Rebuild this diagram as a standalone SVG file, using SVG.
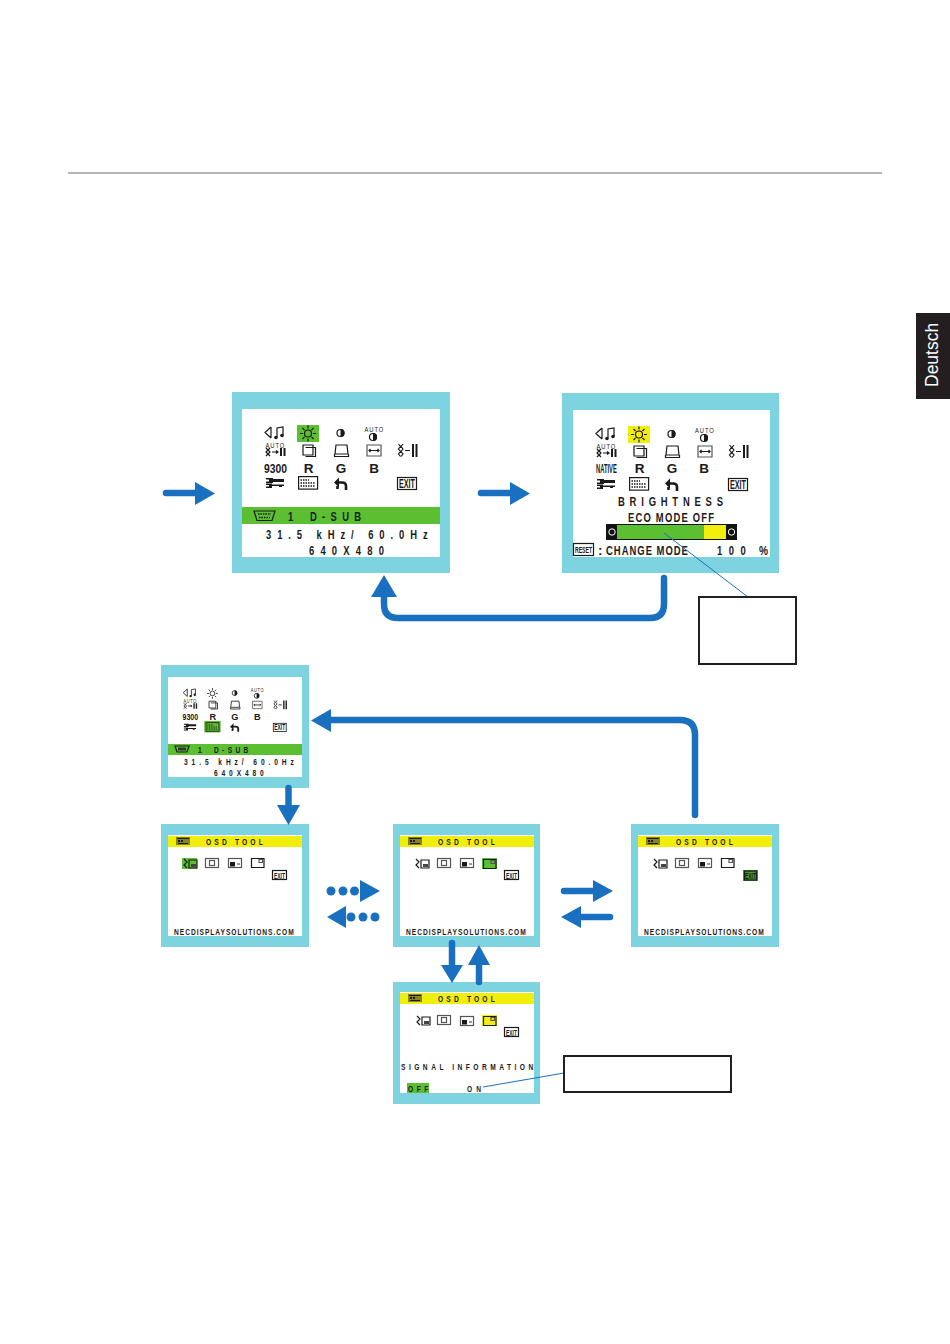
<svg xmlns="http://www.w3.org/2000/svg" width="950" height="1344" viewBox="0 0 950 1344">
<style>
.frame{fill:#7dd3e0}.inner{fill:#fff}.green{fill:#5cbf32}.yellow{fill:#f2ee0c}
.m{font-family:"Liberation Sans",Arial,sans-serif;font-weight:bold;fill:#1a1a1a;font-size:13.500px}
.s{font-size:8px;font-weight:normal}.i{font-size:12px}.t{font-size:9.500px}
.ln{fill:none;stroke:#1a1a1a;stroke-width:1.200}
.gr{fill:none;stroke:#555;stroke-width:1.200}
.fill{fill:#1a1a1a}
.conn{fill:none;stroke:#1a70c0;stroke-width:6.500;stroke-linecap:round}
.head{fill:#1a70c0}
.lead{fill:none;stroke:#1a70c0;stroke-width:1}
.box{fill:#fff;stroke:#231f20;stroke-width:2}
</style>
<defs>
<g id="speaker"><path class="ln" d="M8 1 2 6.500 8 12M8 1V12M14 11V2L20 1V9"/><circle class="fill" cx="13" cy="11.500" r="1.800"/><circle class="fill" cx="19" cy="9.500" r="1.800"/></g>
<g id="sun"><circle class="ln" cx="0" cy="0" r="3.500"/><path class="ln" stroke-width="1" d="M0-8V-5M0 8V5M-8 0H-5M8 0H5M-5.500-5.500-3.500-3.500M5.500 5.500 3.500 3.500M-5.500 5.500-3.500 3.500M5.500-5.500 3.500-3.500"/></g>
<g id="half"><circle class="ln" r="3.500"/><path class="fill" d="M0-4A4 4 0 0 1 0 4Z"/></g>
<g id="arrowbars"><path class="ln" d="M1 0 3 2 1 4 3 6 1 8M5 0 3 2 5 4 3 6 5 8M7 4H13M11 2.500 13 4 11 5.500"/><path class="fill" d="M15 0H17V8H15ZM18.500 0H20.500V8H18.500Z"/></g>
<g id="bars"><path class="ln" d="M1.500 0 3.500 2.500 1.500 5 3.500 7.500 1.500 10 3.500 12.500M6 0 4 2.500 6 5 4 7.500 6 10 4 12.500M8 6.500H13"/><path class="fill" d="M15 0H17V13H15ZM18.500 0H20.500V13H18.500Z"/></g>
<g id="squareH"><path class="ln" d="M1 1H11V11H1ZM3.500 3.500H13.500V12.500H3.500" stroke="#444"/></g>
<g id="squareV"><path class="ln" d="M2 1H13L14 10H1ZM0.500 10V12.500H14.500V10"/></g>
<g id="squareW"><path class="gr" d="M1 1H15V12H1Z"/><path class="ln" stroke-width=".8" d="M3 6.500H13M4.500 5 3 6.500 4.500 8M11.500 5 13 6.500 11.500 8"/></g>
<g id="wrench"><path class="fill" d="M0 0H7V1H18V4H7V5H0V3.500H3V1.500H0ZM0 5.500H6V6.500H18V8H16V9H13V8H6V10H0V8.500H3V7H0Z"/></g>
<g id="keyboard"><rect class="ln" x="0.600" y="0.600" width="19" height="12.500"/><path fill="none" stroke="#1a1a1a" stroke-width="1.500" stroke-dasharray="1.500 1" d="M2.500 4H11M2.500 7H17M2.500 10H17"/></g>
<g id="back"><path fill="none" stroke="#1a1a1a" stroke-width="2.600" d="M3 5.500H8Q12 5.500 12 9V13M3.500 9V12"/><path class="fill" d="M0 5.500 5 0.500V10.500Z"/></g>
<g id="toolIcon"><path class="ln" d="M1 0 4 3 1 6 4 9M6 1H14V9H6Z" stroke-width=".8"/><path fill="#444" d="M8 5H13V8H8Z"/></g>
<g id="clock"><rect class="gr" x="0.500" y="0.500" width="13" height="9"/><rect class="gr" x="4.500" y="2.500" width="5" height="5" stroke-width=".8"/></g>
<g id="lock"><rect class="gr" x="0.500" y="0.500" width="13" height="9"/><path class="fill" d="M2 4H7V8.500H2Z"/><path class="gr" d="M9 6H12" stroke-width=".9"/></g>
<g id="winIcon"><path class="ln" d="M0.500 0.500H13V9.500H0.500Z"/><path class="gr" stroke-width=".9" d="M8 1.500H11.500V4.500H8Z"/></g>
<g id="titleIcon"><rect x="0" y="0" width="14" height="8" fill="#8a8420"/><path class="fill" d="M1 1H13V2H1ZM2 3H4V5H2ZM5 3H7V5H5ZM2 6H12V7H2Z"/></g>
<g id="menuShapes">
<use href="#speaker" x="263" y="426"/><use href="#half" x="340.500" y="433"/><use href="#half" x="373" y="437"/>
<use href="#arrowbars" x="265" y="448"/><use href="#squareH" x="302" y="444"/><use href="#squareV" x="334" y="444"/><use href="#squareW" x="366" y="444"/><use href="#bars" x="397" y="444"/>
<use href="#wrench" x="266" y="478"/><use href="#back" x="334" y="477"/>
<rect class="ln" x="397.500" y="477.500" width="19" height="12"/>
</g>
</defs>

<rect id="top-rule" x="68" y="172" width="814" height="2" fill="#b5b5b5"/>
<g id="language-tab"><rect x="916" y="313" width="34" height="86" fill="#231f20"/><text x="0" y="0" transform="translate(938,387) rotate(-90)" font-family="'Liberation Sans',Arial,sans-serif" font-size="17.500" fill="#fff">Deutsch</text></g>

<g id="screen-input">
<rect class="frame" x="232" y="392" width="218" height="181"/><rect class="inner" x="242" y="409" width="198" height="148"/>
<rect class="green" x="297" y="425" width="22" height="17"/>
<use href="#menuShapes"/><use href="#sun" x="308" y="433.500"/><use href="#keyboard" x="298" y="476"/>
<text class="m s" transform="translate(364.500,432) scale(.72,1)" textLength="26">AUTO</text><text class="m s" transform="translate(265.500,447.500) scale(.72,1)" textLength="26">AUTO</text>
<text class="m" x="264" y="473" textLength="23" lengthAdjust="spacingAndGlyphs">9300</text>
<text class="m" x="308.500" y="473" text-anchor="middle">R</text><text class="m" x="341" y="473" text-anchor="middle">G</text><text class="m" x="374" y="473" text-anchor="middle">B</text>
<text class="m i" x="399" y="488" textLength="16" lengthAdjust="spacingAndGlyphs">EXIT</text>
<rect class="green" x="242" y="507" width="198" height="17"/>
<path class="ln" d="M254 511H275L272 520.500H257Z"/><path fill="none" stroke="#1a1a1a" stroke-width="1.300" stroke-dasharray="1.500 1" d="M258 514H271M259 517.500H270"/>
<text class="m" transform="translate(288,521) scale(.7,1)">1</text><text class="m" transform="translate(310,521) scale(.7,1)" textLength="73">D-SUB</text>
<text class="m" transform="translate(266,539) scale(.7,1)" textLength="231">31.5 kHz/ 60.0Hz</text>
<text class="m" transform="translate(309,555) scale(.7,1)" textLength="107">640X480</text>
</g>

<g id="screen-brightness">
<rect class="frame" x="562" y="393" width="217" height="180"/><rect class="inner" x="573" y="410" width="197" height="147"/>
<rect class="yellow" x="628" y="426" width="22" height="17"/>
<g transform="translate(331,1)"><use href="#menuShapes"/><use href="#sun" x="308" y="433.500"/><use href="#keyboard" x="298" y="476"/></g>
<text class="m s" transform="translate(695,433) scale(.72,1)" textLength="26">AUTO</text><text class="m s" transform="translate(596.500,448.500) scale(.72,1)" textLength="26">AUTO</text>
<text class="m" transform="translate(596,473) scale(.43,1)">NATIVE</text>
<text class="m" x="639.500" y="473" text-anchor="middle">R</text><text class="m" x="672" y="473" text-anchor="middle">G</text><text class="m" x="704" y="473" text-anchor="middle">B</text>
<text class="m i" x="730" y="489" textLength="16" lengthAdjust="spacingAndGlyphs">EXIT</text>
<text class="m" transform="translate(618,506) scale(.7,1)" textLength="150">BRIGHTNESS</text>
<text class="m" transform="translate(628,522) scale(.7,1)" textLength="123">ECO MODE OFF</text>
<rect x="606" y="524" width="131" height="16" fill="#111"/><rect class="green" x="617" y="525" width="87" height="14"/><rect class="yellow" x="704" y="525" width="22" height="14"/>
<circle cx="612" cy="532" r="3.200" fill="none" stroke="#fff"/><circle cx="731.500" cy="532" r="3.200" fill="none" stroke="#fff"/>
<rect class="ln" x="573.500" y="543.500" width="20" height="12"/>
<text class="m t" transform="translate(575,553) scale(.54,1)">RESET</text>
<text class="m" x="598" y="555">:</text><text class="m" transform="translate(606,555) scale(.7,1)" textLength="117">CHANGE MODE</text>
<text class="m" transform="translate(717,555) scale(.7,1)" textLength="41">100</text><text class="m" transform="translate(759,555) scale(.75,1)">%</text>
</g>

<g id="callout-top"><path class="lead" d="M664 533 748 597"/><rect class="box" x="699" y="597" width="97" height="67"/></g>

<g id="screen-input-small">
<rect class="frame" x="161" y="665" width="148" height="123"/><rect class="inner" x="168" y="677" width="134" height="100"/>
<g transform="translate(3,398.600) scale(.68)">
<rect x="296" y="474" width="24" height="17" class="green"/>
<use href="#menuShapes"/><use href="#sun" x="308" y="433.500"/><use href="#keyboard" x="298" y="476"/>
<text class="m s" transform="translate(364.500,432) scale(.72,1)" textLength="26">AUTO</text><text class="m s" transform="translate(265.500,447.500) scale(.72,1)" textLength="26">AUTO</text>
<text class="m" x="264" y="473" textLength="23" lengthAdjust="spacingAndGlyphs">9300</text>
<text class="m" x="308.500" y="473" text-anchor="middle">R</text><text class="m" x="341" y="473" text-anchor="middle">G</text><text class="m" x="374" y="473" text-anchor="middle">B</text>
<text class="m i" x="399" y="488" textLength="16" lengthAdjust="spacingAndGlyphs">EXIT</text>
</g>
<rect class="green" x="168" y="744" width="134" height="11"/>
<path class="ln" stroke-width=".8" d="M175 746H189L187 752H177Z"/><path fill="#333" d="M178 747.500H186V750.500H178Z"/>
<text class="m t" transform="translate(198,753) scale(.7,1)">1</text><text class="m t" transform="translate(214,753) scale(.7,1)" textLength="49">D-SUB</text>
<text class="m t" transform="translate(184,765) scale(.7,1)" textLength="157">31.5 kHz/ 60.0Hz</text>
<text class="m t" transform="translate(214,776) scale(.7,1)" textLength="71">640X480</text>
</g>

<g id="screen-osd-1">
<rect class="frame" x="161" y="824" width="148" height="123"/><rect class="inner" x="168" y="835" width="134" height="101"/>
<rect class="yellow" x="168" y="836" width="134" height="11"/><use href="#titleIcon" x="176" y="837"/>
<text class="m t" transform="translate(206,845) scale(.7,1)" textLength="81">OSD TOOL</text>
<rect class="green" x="182" y="858" width="15" height="11"/>
<use href="#toolIcon" x="183" y="859"/><use href="#clock" x="205" y="858"/><use href="#lock" x="228" y="858"/><use href="#winIcon" x="251" y="858"/>
<rect class="ln" x="272.500" y="870.500" width="14" height="9"/><text class="m t" x="274" y="879" textLength="11" lengthAdjust="spacingAndGlyphs">EXIT</text>
<text class="m t" transform="translate(174,935) scale(.7,1)" textLength="171">NECDISPLAYSOLUTIONS.COM</text>
</g>

<g id="screen-osd-2">
<rect class="frame" x="393" y="824" width="147" height="123"/><rect class="inner" x="400" y="835" width="134" height="101"/>
<rect class="yellow" x="400" y="836" width="134" height="11"/><use href="#titleIcon" x="408" y="837"/>
<text class="m t" transform="translate(438,845) scale(.7,1)" textLength="81">OSD TOOL</text>
<rect class="green" x="482" y="858" width="15" height="11"/>
<use href="#toolIcon" x="415" y="859"/><use href="#clock" x="437" y="858"/><use href="#lock" x="460" y="858"/><use href="#winIcon" x="483" y="859"/>
<rect class="ln" x="504.500" y="870.500" width="14" height="9"/><text class="m t" x="506" y="879" textLength="11" lengthAdjust="spacingAndGlyphs">EXIT</text>
<text class="m t" transform="translate(406,935) scale(.7,1)" textLength="171">NECDISPLAYSOLUTIONS.COM</text>
</g>

<g id="screen-osd-3">
<rect class="frame" x="631" y="824" width="148" height="123"/><rect class="inner" x="638" y="835" width="134" height="101"/>
<rect class="yellow" x="638" y="836" width="134" height="11"/><use href="#titleIcon" x="646" y="837"/>
<text class="m t" transform="translate(676,845) scale(.7,1)" textLength="81">OSD TOOL</text>
<use href="#toolIcon" x="653" y="859"/><use href="#clock" x="675" y="858"/><use href="#lock" x="698" y="858"/><use href="#winIcon" x="721" y="858"/>
<rect x="743" y="870" width="15" height="11" fill="#3f9a2a"/><rect class="ln" x="744.500" y="871" width="12" height="9"/><text class="m t" x="745" y="879" textLength="11" lengthAdjust="spacingAndGlyphs">EXIT</text>
<text class="m t" transform="translate(644,935) scale(.7,1)" textLength="171">NECDISPLAYSOLUTIONS.COM</text>
</g>

<g id="screen-osd-4">
<rect class="frame" x="393" y="982" width="147" height="122"/><rect class="inner" x="400" y="992" width="134" height="101"/>
<rect class="yellow" x="400" y="993" width="134" height="11"/><use href="#titleIcon" x="408" y="994"/>
<text class="m t" transform="translate(438,1002) scale(.7,1)" textLength="81">OSD TOOL</text>
<rect class="yellow" x="482" y="1015" width="15" height="11"/>
<use href="#toolIcon" x="416" y="1016"/><use href="#clock" x="437" y="1015"/><use href="#lock" x="460" y="1016"/><use href="#winIcon" x="483" y="1016"/>
<rect class="ln" x="504.500" y="1027.500" width="14" height="9"/><text class="m t" x="506" y="1036" textLength="11" lengthAdjust="spacingAndGlyphs">EXIT</text>
<text class="m t" transform="translate(401,1070) scale(.7,1)" textLength="189">SIGNAL INFORMATION</text>
<rect class="green" x="407" y="1083" width="22" height="10"/>
<text class="m t" transform="translate(408,1092) scale(.7,1)" textLength="29">OFF</text><text class="m t" transform="translate(467,1092) scale(.7,1)" textLength="20">ON</text>
</g>

<g id="callout-bottom"><path class="lead" d="M483 1087 564 1073"/><rect class="box" x="564" y="1056" width="167" height="36"/></g>

<g id="connectors">
<path class="conn" d="M166 493H197"/><path class="head" d="M195 482 215 493.500 195 505Z"/>
<path class="conn" d="M481 493H512"/><path class="head" d="M510 482 530 493.500 510 505Z"/>
<path class="conn" d="M664 578V604Q664 618 650 618H398Q384 618 384 604V595"/><path class="head" d="M371 597 384 575 397 597Z"/>
<path class="conn" d="M695 815V735Q695 720 680 720H329"/><path class="head" d="M331 709 311 720.500 331 732Z"/>
<path class="conn" d="M288.500 788V807"/><path class="head" d="M277 805H300L288.500 825Z"/>
<g class="head"><circle cx="331" cy="891" r="4.500"/><circle cx="343" cy="891" r="4.500"/><circle cx="354.500" cy="891" r="4.500"/><path d="M360 880 380 891 360 902Z"/>
<path d="M346 906 327 917 346 928Z"/><circle cx="351" cy="917" r="4.500"/><circle cx="363" cy="917" r="4.500"/><circle cx="375" cy="917" r="4.500"/></g>
<path class="conn" d="M564 891H595"/><path class="head" d="M593 880 613 891 593 902Z"/>
<path class="conn" d="M610 917H579"/><path class="head" d="M581 906 561 917 581 928Z"/>
<path class="conn" d="M452 943V967"/><path class="head" d="M441 965H463L452 983Z"/>
<path class="conn" d="M479 982V963"/><path class="head" d="M468 965H490L479 945Z"/>
</g>
</svg>
